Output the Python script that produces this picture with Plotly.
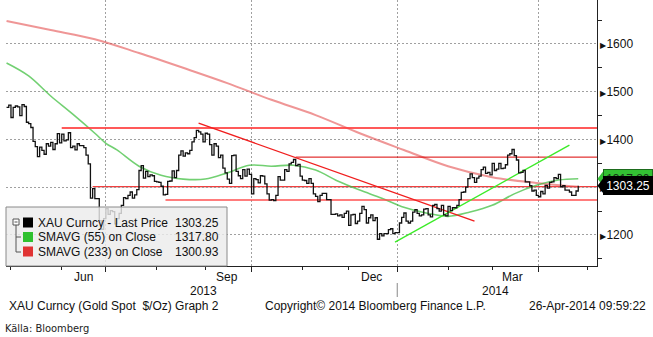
import pandas as pd
import plotly.graph_objects as go

# ---------------- data ----------------
dates = pd.bdate_range("2013-04-29", "2014-04-25")  # trading days (weekdays)

close = [
    1467, 1472,                                                          # Apr 2013
    1446, 1467, 1470, 1468, 1450, 1473, 1469, 1436, 1433, 1425, 1396, 1385, 1364,
    1384, 1377, 1369, 1391, 1386, 1394, 1379, 1391, 1412, 1393,          # May (23)
    1411, 1397, 1399, 1414, 1383, 1386, 1378, 1391, 1387, 1387,
    1383, 1367, 1349, 1277, 1297, 1276, 1276, 1230, 1212, 1234,          # Jun (20)
    1255, 1243, 1251, 1249, 1223, 1234, 1245, 1262, 1278, 1276, 1283, 1290,
    1277, 1284, 1295, 1335, 1345, 1319, 1333, 1322, 1326, 1324, 1312,    # Jul (23)
    1311, 1310, 1302, 1284, 1285, 1312, 1313, 1334, 1320, 1335, 1367,
    1376, 1365, 1372, 1370, 1377, 1395, 1404, 1419, 1416, 1411, 1395,    # Aug (22)
    1413, 1411, 1389, 1367, 1391, 1386, 1362, 1367, 1340, 1330,
    1317, 1308, 1366, 1367, 1333, 1324, 1318, 1337, 1323, 1338, 1327,    # Sep (21)
    1286, 1318, 1316, 1309, 1324, 1323, 1307, 1286, 1273, 1274, 1272, 1283,
    1322, 1315, 1315, 1337, 1333, 1349, 1352, 1358, 1345, 1348, 1323,    # Oct (23)
    1315, 1314, 1308, 1318, 1308, 1286, 1281, 1270, 1283, 1287, 1287,
    1274, 1274, 1243, 1243, 1244, 1240, 1242, 1237, 1245, 1250,          # Nov (21)
    1220, 1242, 1243, 1224, 1229, 1245, 1260, 1253, 1225, 1236, 1242,
    1230, 1236, 1191, 1203, 1198, 1203, 1203, 1211, 1213, 1203, 1205,    # Dec (22)
    1205, 1225, 1237, 1246, 1229, 1225, 1229, 1248, 1253, 1245, 1240, 1242,
    1254, 1255, 1242, 1238, 1262, 1264, 1255, 1250, 1262, 1242, 1240,    # Jan 2014 (23)
    1260, 1251, 1257, 1257, 1262, 1274, 1289, 1290, 1300, 1318,
    1328, 1320, 1310, 1319, 1323, 1337, 1342, 1329, 1331, 1326,          # Feb (20)
    1350, 1335, 1338, 1350, 1339, 1340, 1347, 1367, 1370, 1379, 1366,
    1357, 1330, 1331, 1335, 1311, 1311, 1303, 1292, 1294, 1283,          # Mar (21)
    1280, 1291, 1286, 1304, 1298, 1310, 1311, 1320, 1318, 1327,
    1301, 1303, 1294, 1294, 1290, 1283, 1283, 1292, 1303.25,             # Apr (19)
]

sma55_dates = ["2013-04-29", "2013-05-13", "2013-05-27", "2013-06-10", "2013-06-24",
               "2013-07-01", "2013-07-08", "2013-07-22", "2013-08-05", "2013-08-19",
               "2013-09-02", "2013-09-16", "2013-09-30", "2013-10-14", "2013-10-28",
               "2013-11-11", "2013-11-25", "2013-12-09", "2013-12-23", "2014-01-06",
               "2014-01-20", "2014-02-03", "2014-02-17", "2014-03-03", "2014-03-17",
               "2014-03-31", "2014-04-14", "2014-04-25"]
sma55_vals = [1560, 1533, 1491, 1453, 1413, 1392, 1378, 1344, 1325, 1317,
              1317, 1330, 1346, 1344, 1346, 1336, 1313, 1294, 1277, 1258,
              1246, 1239, 1248, 1262, 1286, 1304, 1315, 1317.8]

sma233_dates = ["2013-04-29", "2013-05-27", "2013-06-24", "2013-07-22", "2013-08-19",
                "2013-09-16", "2013-10-14", "2013-11-11", "2013-12-09", "2014-01-06",
                "2014-02-03", "2014-03-03", "2014-03-31", "2014-04-25"]
sma233_vals = [1648, 1629, 1610, 1581, 1550, 1518, 1483, 1451, 1413, 1378,
               1344, 1321, 1309, 1300.93]

# drawn horizontal levels (start date, level) – they run to the right edge
level_starts = ["2013-06-03", "2013-10-29", "2013-06-21", "2013-08-07"]
level_values = [1424, 1363, 1301, 1273]

down_trend_dates = ["2013-08-28", "2014-02-19"]
down_trend_vals = [1434, 1229]
up_trend_dates = ["2013-12-31", "2014-04-21"]
up_trend_vals = [1185, 1388]

legend_names = ["XAU Curncy - Last Price", "SMAVG (55) on Close", "SMAVG (233) on Close"]
legend_values = [1303.25, 1317.80, 1300.93]

y_tick_vals = [1200, 1300, 1400, 1500, 1600]
y_minor_vals = [1150, 1250, 1350, 1450, 1550, 1650]
quarter_starts = ["2013-07-01", "2013-10-01", "2014-01-01", "2014-04-01"]
month_starts = ["2013-05-01", "2013-06-03", "2013-07-01", "2013-08-01", "2013-09-02",
                "2013-10-01", "2013-11-01", "2013-12-02", "2014-01-01", "2014-02-03",
                "2014-03-03", "2014-04-01", "2014-05-01"]
month_labels = ["Jun", "Sep", "Dec", "Mar"]
month_label_dates = ["2013-06-17", "2013-09-16", "2013-12-16 12:00", "2014-03-14"]
year_labels = ["2013", "2014"]
year_label_dates = ["2013-08-30", "2014-03-04 12:00"]
year_sep_date = "2014-01-01"

X_START = "2013-04-26 18:00"
X_END = "2014-05-07 12:00"
Y_RANGE = [1135, 1692]

# ---------------- geometry helpers ----------------
W, H = 653, 337
PL, PR, PT, PB = 6, 597, 0, 266
FONT = "Tahoma, Liberation Sans, Arial, sans-serif"


def px(x):
    return (x - PL) / (PR - PL)


def py(y):
    return (PB - y) / (PB - PT)


def dy(pix):  # pixel height -> data units
    return pix * (Y_RANGE[1] - Y_RANGE[0]) / (PB - PT)


fig = go.Figure()

# moving averages
fig.add_trace(go.Scatter(x=sma233_dates, y=sma233_vals, mode="lines",
                         line=dict(color="rgba(228,80,80,0.6)", width=2, shape="spline"),
                         hoverinfo="skip"))
fig.add_trace(go.Scatter(x=sma55_dates, y=sma55_vals, mode="lines",
                         line=dict(color="rgba(60,190,60,0.72)", width=1.6, shape="spline"),
                         hoverinfo="skip"))

# drawn levels
level_styles = [dict(color="rgba(255,60,60,0.85)", width=2),
                dict(color="rgb(220,0,0)", width=1),
                None,
                dict(color="rgba(255,80,80,0.75)", width=2)]
shapes = []
for s, v, st in zip(level_starts, level_values, level_styles):
    if st is None:
        shapes.append(dict(type="line", xref="x", yref="y", x0=s, x1=X_END, y0=v, y1=v,
                           line=dict(color="rgb(235,0,0)", width=1.2), layer="below"))
    else:
        fig.add_trace(go.Scatter(x=[s, X_END], y=[v, v], mode="lines",
                                 line=st, hoverinfo="skip"))

fig.add_trace(go.Scatter(x=down_trend_dates, y=down_trend_vals, mode="lines",
                         line=dict(color="rgb(240,30,30)", width=1.4), hoverinfo="skip"))
fig.add_trace(go.Scatter(x=up_trend_dates, y=up_trend_vals, mode="lines",
                         line=dict(color="rgb(60,235,40)", width=1.4), hoverinfo="skip"))

# price
fig.add_trace(go.Scatter(x=dates, y=close, mode="lines",
                         line=dict(color="#111111", width=1.3, shape="hv"), hoverinfo="skip"))

# legend box
shapes.append(dict(type="rect", xref="paper", yref="paper",
                   x0=px(6), x1=px(227), y0=py(266), y1=py(207),
                   fillcolor="rgba(236,236,236,0.82)", line=dict(color="#8a8a8a", width=1),
                   layer="above"))
sq_colors = ["#000000", "#2fc12f", "#e03333"]
row_y = [222.5, 237, 251.5]
for c, ry in zip(sq_colors, row_y):
    shapes.append(dict(type="rect", xref="paper", yref="paper",
                       x0=px(23), x1=px(33), y0=py(ry + 5), y1=py(ry - 5),
                       fillcolor=c, line=dict(color=c, width=0), layer="above"))
# tree icon
shapes.append(dict(type="rect", xref="paper", yref="paper", x0=px(13), x1=px(19),
                   y0=py(225), y1=py(219), fillcolor="white",
                   line=dict(color="#555", width=1), layer="above"))
shapes.append(dict(type="line", xref="paper", yref="paper", x0=px(14.5), x1=px(17.5),
                   y0=py(222), y1=py(222), line=dict(color="#555", width=1), layer="above"))
shapes.append(dict(type="path", xref="paper", yref="paper",
                   path=f"M {px(16)},{py(225)} L {px(16)},{py(252)} L {px(21)},{py(252)}",
                   line=dict(color="#555", width=1), layer="above"))
shapes.append(dict(type="line", xref="paper", yref="paper", x0=px(16), x1=px(21),
                   y0=py(237), y1=py(237), line=dict(color="#555", width=1), layer="above"))

# right side value tags (pointer triangles)
tag_h = dy(8.5)
for val, col in [(legend_values[1], "#33c133"), (legend_values[0], "#000000")]:
    shapes.append(dict(type="path", xref="paper", yref="y",
                       path=f"M {px(597.5)},{val} L {px(604)},{val + tag_h} L {px(604)},{val - tag_h} Z",
                       fillcolor=col, line=dict(color=col, width=0), layer="above"))

# year separator
shapes.append(dict(type="line", xref="x", yref="paper", x0=year_sep_date, x1=year_sep_date,
                   y0=py(283), y1=py(297), line=dict(color="#888", width=1)))

annotations = []
for name, val, ry in zip(legend_names, legend_values, row_y):
    annotations.append(dict(xref="paper", yref="paper", x=px(36), y=py(ry), xanchor="left",
                            yanchor="middle", text=name, showarrow=False,
                            font=dict(family=FONT, size=12, color="#111")))
    annotations.append(dict(xref="paper", yref="paper", x=px(221), y=py(ry), xanchor="right",
                            yanchor="middle", text=f"{val:.2f}", showarrow=False,
                            font=dict(family=FONT, size=12, color="#111")))

# tags text boxes (green first so black covers it)
annotations.append(dict(xref="paper", yref="y", x=px(603), y=legend_values[1], xanchor="left",
                        yanchor="middle", text=f"{legend_values[1]:.2f}", showarrow=False,
                        bgcolor="#33c133", bordercolor="#1d6b1d", borderwidth=1, borderpad=1,
                        width=46, height=15, font=dict(family=FONT, size=12, color="#153015")))
annotations.append(dict(xref="paper", yref="y", x=px(603), y=legend_values[0], xanchor="left",
                        yanchor="middle", text=f"{legend_values[0]:.2f}", showarrow=False,
                        bgcolor="#000000", bordercolor="#000000", borderwidth=1, borderpad=1,
                        width=46, height=15, font=dict(family=FONT, size=12, color="white")))

for t, d in zip(month_labels, month_label_dates):
    annotations.append(dict(xref="x", yref="paper", x=d, y=py(276.5), xanchor="center",
                            yanchor="middle", text=t, showarrow=False,
                            font=dict(family=FONT, size=12, color="#111")))
for t, d in zip(year_labels, year_label_dates):
    annotations.append(dict(xref="x", yref="paper", x=d, y=py(290.5), xanchor="center",
                            yanchor="middle", text=t, showarrow=False,
                            font=dict(family=FONT, size=12, color="#111")))

annotations += [
    dict(xref="paper", yref="paper", x=px(7), y=py(306), xanchor="left", yanchor="middle",
         text="XAU Curncy (Gold Spot &nbsp;$/Oz) Graph 2", showarrow=False,
         font=dict(family=FONT, size=12, color="#111")),
    dict(xref="paper", yref="paper", x=px(263), y=py(306), xanchor="left", yanchor="middle",
         text="Copyright© 2014 Bloomberg Finance L.P.", showarrow=False,
         font=dict(family=FONT, size=12, color="#111")),
    dict(xref="paper", yref="paper", x=px(648), y=py(306), xanchor="right", yanchor="middle",
         text="26-Apr-2014 09:59:22", showarrow=False,
         font=dict(family=FONT, size=12, color="#111")),
    dict(xref="paper", yref="paper", x=px(3), y=py(328), xanchor="left", yanchor="middle",
         text="Källa: Bloomberg", showarrow=False,
         font=dict(family="Liberation Sans Narrow, DejaVu Sans Condensed, sans-serif",
                   size=11, color="#222")),
]

ytext = ["<span style='font-size:8px'>▶</span>" + str(v) for v in y_tick_vals]

fig.update_layout(
    width=W, height=H,
    margin=dict(l=PL, r=W - PR, t=PT, b=H - PB, pad=0),
    plot_bgcolor="white", paper_bgcolor="white",
    showlegend=False,
    shapes=shapes,
    annotations=annotations,
    xaxis=dict(type="date", range=[X_START, X_END],
               rangebreaks=[dict(bounds=["sat", "mon"])],
               showline=True, linecolor="#222", linewidth=1,
               tickmode="array", tickvals=quarter_starts, showticklabels=False,
               ticks="outside", ticklen=5, tickcolor="#222",
               showgrid=True, gridcolor="#a0a0a0", griddash="2px,2px", gridwidth=1,
               minor=dict(tickmode="array", tickvals=month_starts, ticks="outside",
                          ticklen=3, tickcolor="#222", showgrid=False),
               zeroline=False),
    yaxis=dict(side="right", range=Y_RANGE, showline=True, linecolor="#222", linewidth=1,
               tickmode="array", tickvals=y_tick_vals, ticktext=ytext, ticks="",
               tickfont=dict(family=FONT, size=12, color="#111"),
               showgrid=True, gridcolor="#a0a0a0", griddash="2px,2px", gridwidth=1,
               minor=dict(tickmode="array", tickvals=y_minor_vals, ticks="outside",
                          ticklen=4, tickcolor="#222", showgrid=False),
               zeroline=False),
)

fig.write_html("out.html")
